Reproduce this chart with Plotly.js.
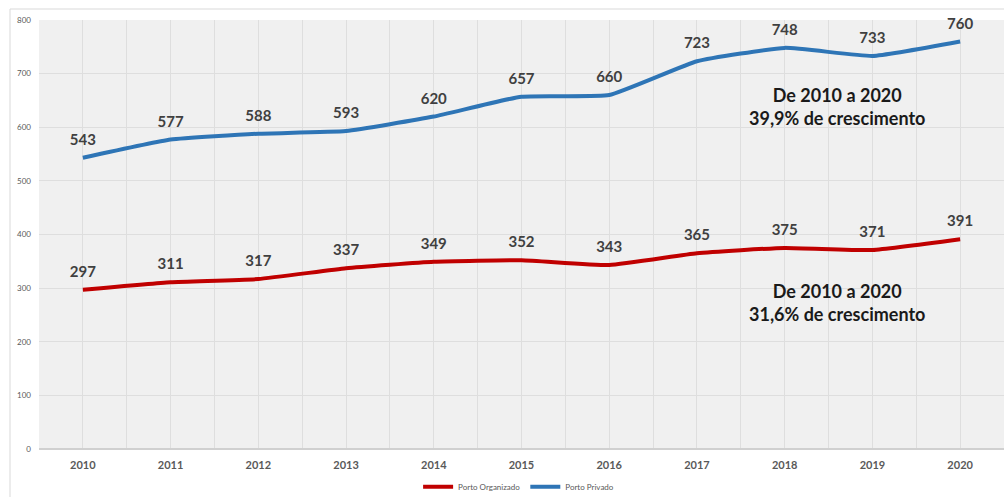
<!DOCTYPE html>
<html>
<head>
<meta charset="utf-8">
<script src="https://cdn.plot.ly/plotly-3.0.1.min.js"></script>
<style>html,body{margin:0;padding:0;background:#fff;}#chart{width:1004px;height:497px;}</style>
</head>
<body>
<div id="chart"></div>
<script>
const years = [2010, 2011, 2012, 2013, 2014, 2015, 2016, 2017, 2018, 2019, 2020];
const portoOrganizado = [297, 311, 317, 337, 349, 352, 343, 365, 375, 371, 391];
const portoPrivado = [543, 577, 588, 593, 620, 657, 660, 723, 748, 733, 760];
const seriesNames = ['Porto Organizado', 'Porto Privado'];
const yTicks = [0, 100, 200, 300, 400, 500, 600, 700, 800];
const noteLines = [
  ['De 2010 a 2020', '39,9% de crescimento'],
  ['De 2010 a 2020', '31,6% de crescimento']
];

const labelFont = {family: 'Lato, "Open Sans", sans-serif', size: 15, color: '#404040', weight: 700};

const traces = [
  {
    x: years, y: portoOrganizado, name: seriesNames[0], mode: 'lines+markers+text',
    text: portoOrganizado.map(String), textposition: 'top center',
    textfont: labelFont,
    marker: {size: 13, color: 'rgba(0,0,0,0)'},
    line: {color: '#c00000', width: 4, shape: 'spline', smoothing: 0.4},
    cliponaxis: false
  },
  {
    x: years, y: portoPrivado, name: seriesNames[1], mode: 'lines+markers+text',
    text: portoPrivado.map(String), textposition: 'top center',
    textfont: labelFont,
    marker: {size: 13, color: 'rgba(0,0,0,0)'},
    line: {color: '#2e75b6', width: 4, shape: 'spline', smoothing: 0.4},
    cliponaxis: false
  }
];

const layout = {
  width: 1004, height: 497,
  margin: {l: 39, r: 0, t: 20, b: 48, autoexpand: false},
  paper_bgcolor: '#ffffff',
  plot_bgcolor: '#f0f0f0',
  font: {family: 'Lato, "Open Sans", sans-serif', color: '#595959'},
  showlegend: true,
  legend: {
    orientation: 'h', x: 0.497, xanchor: 'center', y: -0.088, yanchor: 'middle',
    font: {size: 8, color: '#595959'}, itemwidth: 30, tracegroupgap: 0,
    bgcolor: 'rgba(0,0,0,0)'
  },
  xaxis: {
    type: 'linear', range: [2009.5, 2020.5],
    tickvals: years, ticktext: years.map(String),
    tickfont: {size: 11, color: '#595959', weight: 700},
    showgrid: false, zeroline: false, showline: false, ticks: '',
    ticklabelstandoff: 8,
    minor: {tick0: 2009.5, dtick: 0.5, showgrid: true, gridcolor: '#dedede', gridwidth: 1},
    fixedrange: true
  },
  yaxis: {
    range: [0, 800], tickvals: yTicks, ticktext: yTicks.map(String),
    tickfont: {size: 8, color: '#595959'},
    showgrid: true, gridcolor: '#dedede', gridwidth: 1,
    zeroline: true, zerolinecolor: '#d0d0d0', zerolinewidth: 2,
    showline: false, ticks: '', ticklabelstandoff: 7, fixedrange: true
  },
  annotations: [
    {x: 2018.6, y: 638, xref: 'x', yref: 'y', text: noteLines[0].join('<br>'),
     showarrow: false, font: {size: 18, color: '#1a1a1a', weight: 700, family: 'Lato, "Open Sans", sans-serif'}, align: 'center'},
    {x: 2018.6, y: 274, xref: 'x', yref: 'y', text: noteLines[1].join('<br>'),
     showarrow: false, font: {size: 18, color: '#1a1a1a', weight: 700, family: 'Lato, "Open Sans", sans-serif'}, align: 'center'}
  ],
  shapes: [
    {type: 'rect', xref: 'paper', yref: 'paper', x0: -29/965, x1: 1.05, y0: -0.2, y1: 1 + 11/429,
     line: {color: '#d9d9d9', width: 1}, fillcolor: 'rgba(0,0,0,0)', layer: 'below'}
  ]
};

Plotly.newPlot('chart', traces, layout, {displayModeBar: false, staticPlot: true});
</script>
</body>
</html>
